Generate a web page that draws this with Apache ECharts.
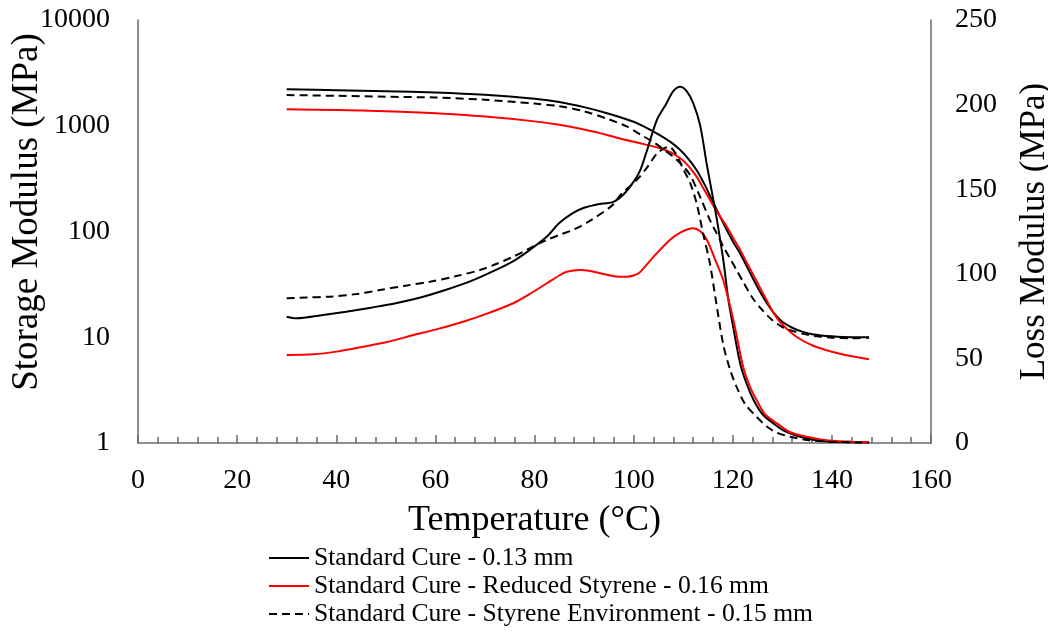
<!DOCTYPE html>
<html>
<head>
<meta charset="utf-8">
<script src="https://cdn.jsdelivr.net/npm/echarts@6/dist/echarts.min.js"></script>
<style>
html,body{margin:0;padding:0;background:#fff;}
#chart{width:1048px;height:632px;}
</style>
</head>
<body>
<div id="chart"></div>
<script>
// Series names (legend)
const seriesNames = [
  'Standard Cure - 0.13 mm',
  'Standard Cure - Reduced Styrene - 0.16 mm',
  'Standard Cure - Styrene Environment - 0.15 mm'
];

// Axis titles
const xTitle = 'Temperature (°C)';
const leftTitle = 'Storage Modulus (MPa)';
const rightTitle = 'Loss Modulus (MPa)';

// Storage modulus (MPa, left log axis)
const tempStorageStd = [30, 40, 50, 60, 70, 80, 85, 90, 95, 100, 102.5, 105, 107.5, 109.4, 111, 112.7, 114.2, 115.8, 117.3, 118.8, 120.2, 121.5, 122.8, 124.2, 125.5, 126.9, 128.5, 130, 132, 134, 136, 140, 144, 147.5];
const storageStd = [2210, 2170, 2120, 2060, 1960, 1800, 1680, 1500, 1300, 1090, 960, 830, 700, 590, 490, 382, 285, 199, 143, 103, 78, 62, 47, 35, 27, 21, 16.5, 14, 12.3, 11.3, 10.7, 10.2, 10, 10];

const tempStorageRed = [30, 40, 50, 60, 70, 80, 85, 90, 95, 98, 101.3, 105.3, 107.5, 109.4, 111, 112.7, 114.2, 115.8, 117.3, 118.8, 120.2, 121.5, 123, 124.8, 126.2, 127.5, 129, 130.5, 133, 136, 140, 144, 147.5];
const storageRed = [1430, 1410, 1370, 1310, 1220, 1100, 1020, 920, 810, 740, 683, 612, 560, 492, 420, 330, 250, 185, 142, 111, 85, 67, 49, 34, 25.5, 19.5, 15, 12.5, 10, 8.4, 7.3, 6.6, 6.2];

const tempStorageEnv = [30, 40, 50, 60, 70, 80, 85, 90, 95, 98.7, 101.3, 104.2, 106, 108, 109.5, 111.4, 113.4, 115.4, 116.8, 118.1, 119.5, 120.8, 122, 124, 126, 128, 130, 132, 134.5, 137, 140, 144, 147.5];
const storageEnv = [1950, 1920, 1880, 1850, 1760, 1620, 1530, 1370, 1150, 980, 830, 690, 600, 510, 440, 342, 213, 128, 95, 72, 55, 43, 34, 23.5, 18, 14.5, 12.5, 11.5, 10.7, 10.2, 9.9, 9.8, 9.9];

// Loss modulus (MPa, right linear axis)
const tempLossStd = [30, 32, 37, 42, 47, 52, 57, 62, 67, 72, 76, 79, 82.5, 85, 87.8, 90, 92.6, 95.9, 98, 99.9, 101.3, 102.6, 104.7, 106.5, 108, 109.4, 110.7, 112, 113.4, 114.8, 116, 116.8, 118.1, 119.1, 120, 121.5, 122.8, 124.2, 126, 128.2, 130.5, 133.6, 136.5, 139.6, 143, 147.5];
const lossStd = [74.6, 73.7, 75.5, 77.6, 80, 82.6, 86, 90.4, 95.5, 102, 108, 114, 122, 130, 136, 139, 141, 142.5, 147, 154, 161, 172, 191, 200, 208, 210.6, 208, 201, 188, 164, 145, 132, 108, 85, 70, 47, 35, 25.4, 17, 11.6, 7, 3.7, 1.8, 0.8, 0.5, 0.3];

const tempLossRed = [30, 35.4, 40, 45.5, 50, 55.6, 60, 65.6, 70, 75.7, 79, 82.5, 85, 86.5, 89.2, 91, 93.2, 96, 98.6, 100, 101.3, 104, 107.3, 109.5, 112, 113.5, 114.8, 116.5, 118.1, 120.1, 122.1, 123.5, 124.8, 126.5, 128.9, 131.5, 134.9, 138, 141, 144, 147.5];
const lossRed = [52, 52.4, 54, 56.9, 59.5, 63.8, 67, 71.7, 76, 82.6, 88, 94.4, 99, 101.2, 102.2, 101.8, 100.3, 98.6, 98.3, 99, 101, 110, 120, 124.5, 126.9, 125, 120, 108, 96, 73, 45, 33, 25.4, 17, 11.6, 6.5, 3.7, 2, 1.2, 0.8, 0.5];

const tempLossEnv = [30, 34, 38.7, 44, 48.8, 54, 58.9, 64, 69, 72, 75.7, 79, 82.5, 85, 87.8, 91, 95.5, 97.5, 100.6, 102.5, 104.7, 106.4, 107.2, 108.5, 110, 111.4, 112.7, 114, 115.4, 116.5, 118.1, 119.5, 120.8, 122.5, 124.8, 127, 129, 131.6, 135, 139.6, 144, 147.5];
const lossEnv = [85.5, 86, 86.5, 88, 90.4, 93, 95.3, 98.5, 102.2, 105.5, 110.1, 115, 120, 123, 126, 131, 140, 147, 155.4, 162, 171, 174.5, 175, 171, 162, 153.7, 141.8, 124.1, 106, 86, 58, 43, 33, 23, 15.5, 9.5, 6, 3.7, 1.8, 0.8, 0.4, 0.3];

// Axis ticks
const xTicks = {min: 0, max: 160, interval: 20};
const leftTicks = {min: 1, max: 10000};
const rightTicks = {min: 0, max: 250, interval: 50};

const FONT = 'Liberation Serif';
const AXIS_COLOR = '#6a6a6a';

function pairs(xs, ys) { return xs.map((x, i) => [x, ys[i]]); }

function mkSeries(name, xs, ys, yIdx, color, dashed) {
  return {
    name: name,
    type: 'line',
    yAxisIndex: yIdx,
    data: pairs(xs, ys),
    smooth: 0.3,
    symbol: 'none',
    showSymbol: false,
    lineStyle: {color: color, width: 2, type: dashed ? [8, 5] : 'solid'},
    itemStyle: {color: color},
    animation: false
  };
}

const chart = echarts.init(document.getElementById('chart'));
chart.setOption({
  backgroundColor: '#fff',
  animation: false,
  grid: {left: 138, right: 117, top: 20, bottom: 189, containLabel: false, outerBoundsMode: 'none'},
  graphic: [
    {
      type: 'text',
      x: 27,
      y: 212,
      rotation: Math.PI / 2,
      style: {
        text: leftTitle,
        fontFamily: FONT,
        fontSize: 37,
        fill: '#000',
        align: 'center',
        verticalAlign: 'middle'
      }
    }
  ],
  legend: {
    orient: 'vertical',
    left: 268,
    top: 545,
    padding: 0,
    itemWidth: 40,
    itemHeight: 12,
    itemGap: 2,
    data: seriesNames,
    itemStyle: {opacity: 0},
    textStyle: {fontFamily: FONT, fontSize: 25.6, color: '#000', lineHeight: 26}
  },
  xAxis: {
    type: 'value',
    min: xTicks.min, max: xTicks.max, interval: xTicks.interval,
    name: xTitle,
    nameLocation: 'middle',
    nameGap: 60,
    nameTextStyle: {fontFamily: FONT, fontSize: 36, color: '#000'},
    axisLine: {show: true, lineStyle: {color: AXIS_COLOR, width: 1.5}},
    axisTick: {show: true, inside: true, length: 8, lineStyle: {color: AXIS_COLOR, width: 1.5}},
    minorTick: {show: true, splitNumber: 5, length: 6, lineStyle: {color: AXIS_COLOR, width: 1.5}},
    splitLine: {show: false},
    axisLabel: {fontFamily: FONT, fontSize: 28, color: '#000', margin: 24}
  },
  yAxis: [
    {
      type: 'log', logBase: 10,
      min: leftTicks.min, max: leftTicks.max,
      axisLine: {show: true, lineStyle: {color: AXIS_COLOR, width: 1.5}},
      axisTick: {show: false},
      minorTick: {show: false},
      splitLine: {show: false},
      axisLabel: {fontFamily: FONT, fontSize: 28, color: '#000', margin: 28, formatter: function (v) { return String(Math.round(v)); }}
    },
    {
      type: 'value',
      position: 'right',
      min: rightTicks.min, max: rightTicks.max, interval: rightTicks.interval,
      name: rightTitle,
      nameLocation: 'middle',
      nameRotate: 90,
      nameGap: 86,
      nameTextStyle: {fontFamily: FONT, fontSize: 35, color: '#000'},
      axisLine: {show: true, lineStyle: {color: AXIS_COLOR, width: 1.5}},
      axisTick: {show: false},
      splitLine: {show: false},
      axisLabel: {fontFamily: FONT, fontSize: 28, color: '#000', margin: 24}
    }
  ],
  series: [
    mkSeries(seriesNames[0], tempStorageStd, storageStd, 0, '#000000', false),
    mkSeries(seriesNames[1], tempStorageRed, storageRed, 0, '#ff0000', false),
    mkSeries(seriesNames[2], tempStorageEnv, storageEnv, 0, '#000000', true),
    mkSeries(seriesNames[0], tempLossStd, lossStd, 1, '#000000', false),
    mkSeries(seriesNames[1], tempLossRed, lossRed, 1, '#ff0000', false),
    mkSeries(seriesNames[2], tempLossEnv, lossEnv, 1, '#000000', true)
  ]
});
</script>
</body>
</html>
